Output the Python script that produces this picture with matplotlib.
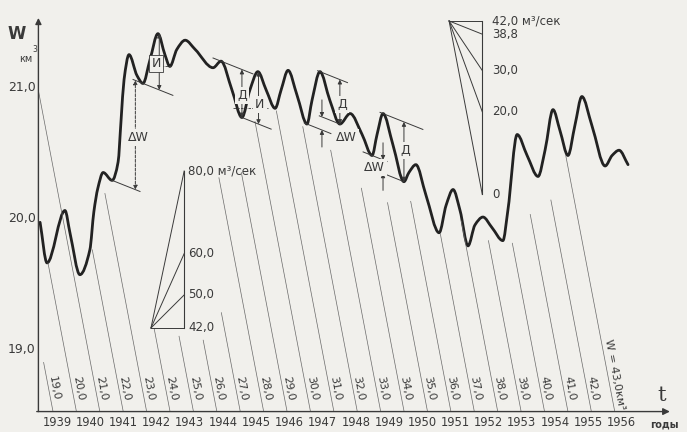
import numpy as np
import matplotlib.pyplot as plt
from matplotlib.path import Path
from matplotlib.patches import PathPatch

# integral storage curve of the reservoir, W in km3 against time in years
curve_t = [1938.49, 1938.70, 1939.24, 1939.39, 1939.69, 1939.99, 1940.11, 1940.23,
           1940.39, 1940.66, 1940.84, 1940.93, 1941.02, 1941.17, 1941.41, 1941.59,
           1941.80, 1942.04, 1942.25, 1942.40, 1942.61, 1942.86, 1943.16, 1943.70,
           1943.94, 1944.27, 1944.57, 1944.81, 1945.05, 1945.30, 1945.57, 1945.75,
           1945.96, 1946.23, 1946.53, 1946.68, 1946.92, 1947.22, 1947.52, 1947.83,
           1948.19, 1948.49, 1948.64, 1948.82, 1949.12, 1949.45, 1949.60, 1949.81,
           1950.11, 1950.51, 1950.72, 1950.93, 1951.14, 1951.38, 1951.59, 1951.83,
           1952.10, 1952.43, 1952.58, 1952.86, 1953.16, 1953.49, 1953.70, 1953.94,
           1954.15, 1954.39, 1954.60, 1954.81, 1955.11, 1955.51, 1955.72, 1955.93,
           1956.20]
storage = [19.99, 19.68, 20.08, 19.91, 19.59, 19.78, 20.07, 20.25,
           20.37, 20.31, 20.45, 20.77, 21.08, 21.27, 21.11, 21.05,
           21.23, 21.43, 21.27, 21.18, 21.31, 21.38, 21.31, 21.17,
           21.22, 21.00, 20.79, 21.00, 21.14, 21.00, 20.86, 21.00,
           21.15, 20.96, 20.74, 20.92, 21.14, 20.92, 20.74, 20.82,
           20.66, 20.50, 20.66, 20.82, 20.58, 20.30, 20.37, 20.43,
           20.20, 19.91, 20.12, 20.24, 20.08, 19.81, 19.97, 20.03,
           19.95, 19.85, 20.08, 20.66, 20.50, 20.34, 20.54, 20.85,
           20.69, 20.50, 20.73, 20.95, 20.73, 20.42, 20.50, 20.54,
           20.43]

years = list(range(1939, 1957))
y_ticks = [19.0, 20.0, 21.0]

# slanted lines of equal volume and the level where each one starts
iso_values = list(range(19, 44))
iso_top = [18.92, 19.68, 20.98, 19.78, 20.21, 19.18, 19.12, 19.09, 19.30, 20.33,
           20.37, 20.76, 20.84, 20.72, 20.54, 20.25, 20.14, 20.15, 19.90, 20.00,
           19.85, 19.83, 20.05, 20.16, 20.50]

# discharge scales, m3/s
upper_fan_q = [42.0, 38.8, 30.0, 20.0, 0.0]
lower_fan_q = [80.0, 60.0, 50.0, 42.0]

Q_BASE = 42.0
KM3_PER_Q = 0.031536          # 1 m3/s kept for one year, in km3
K = Q_BASE * KM3_PER_Q        # slope of the equal-volume lines, km3 per year
S38 = (38.8 - Q_BASE) * KM3_PER_Q

W_BASE = 18.545
AXIS_T = 1938.44
ISO_T0 = 1938.88
ISO_STEP = 0.705

BG = '#f1f0ec'
INK = '#3a3a3a'
THIN = '#6a6a6a'

fig = plt.figure(figsize=(6.87, 4.32), dpi=100, facecolor=BG)
ax = fig.add_axes([0, 0, 1, 1])
ax.set_facecolor(BG)
ax.set_xlim(1937.283, 1957.976)
ax.set_ylim(18.389, 21.687)
ax.axis('off')

# axes with arrows
ax.annotate('', xy=(AXIS_T, 21.55), xytext=(AXIS_T, W_BASE),
            arrowprops=dict(arrowstyle='-|>', color=INK, lw=1.0, mutation_scale=9,
                            shrinkA=0, shrinkB=0))
ax.annotate('', xy=(1957.46, W_BASE), xytext=(AXIS_T - 0.05, W_BASE),
            arrowprops=dict(arrowstyle='-|>', color=INK, lw=1.0, mutation_scale=10,
                            shrinkA=0, shrinkB=0))

ax.text(1937.80, 21.43, 'W', fontsize=12, fontweight='bold', color=INK,
        ha='center', va='center')
ax.text(1938.07, 21.24, 'км', fontsize=7, color=INK, ha='center', va='center')
ax.text(1938.33, 21.31, '3', fontsize=5.5, color=INK, ha='center', va='center')
for v in y_ticks:
    ax.text(AXIS_T - 0.08, v + 0.02, f'{v:.1f}'.replace('.', ','), fontsize=9,
            color=INK, ha='right', va='center')

for y in years:
    ax.text(y, 18.46, str(y), fontsize=8.3, color=INK, ha='center', va='center')
ax.text(1957.22, 18.67, 't', fontsize=15, family='DejaVu Serif', color=INK,
        ha='center', va='center')
ax.text(1956.86, 18.45, 'годы', fontsize=7, fontweight='bold', color=INK,
        ha='left', va='center')

# equal-volume lines
ppx = fig.get_figwidth() * fig.dpi / np.diff(ax.get_xlim())[0]
ppy = fig.get_figheight() * fig.dpi / np.diff(ax.get_ylim())[0]
angle = np.degrees(np.arctan2(-K * ppy, ppx))
for v, top in zip(iso_values, iso_top):
    tb = ISO_T0 + (v - 19) * ISO_STEP
    t_top = max(tb - (top - W_BASE) / K, AXIS_T)
    ax.plot([t_top, tb], [W_BASE + K * (tb - t_top), W_BASE], color=THIN, lw=0.5)
    if v < iso_values[-1]:
        w_lab = 18.725
        ax.text(tb - (w_lab - W_BASE) / K + 0.18, w_lab, f'{v:.1f}'.replace('.', ','),
                fontsize=8, color=INK, rotation=angle, rotation_mode='anchor',
                ha='center', va='center')
    else:
        w_lab = 18.83
        ax.text(tb - (w_lab - W_BASE) / K + 0.2, w_lab, f'W = {v:.1f}км³'.replace('.', ','),
                fontsize=8, color=INK, rotation=angle, rotation_mode='anchor',
                ha='center', va='center')


def smooth_path(x, y):
    x = np.asarray(x)
    y = np.asarray(y)
    h = np.diff(x)
    d = np.diff(y) / h
    m = np.zeros_like(y)
    m[0], m[-1] = d[0], d[-1]
    for k in range(1, len(x) - 1):
        if d[k - 1] * d[k] > 0:
            w1 = 2 * h[k] + h[k - 1]
            w2 = h[k] + 2 * h[k - 1]
            m[k] = (w1 + w2) / (w1 / d[k - 1] + w2 / d[k])
    verts = [(x[0], y[0])]
    codes = [Path.MOVETO]
    for k in range(len(x) - 1):
        verts += [(x[k] + h[k] / 3, y[k] + m[k] * h[k] / 3),
                  (x[k + 1] - h[k] / 3, y[k + 1] - m[k + 1] * h[k] / 3),
                  (x[k + 1], y[k + 1])]
        codes += [Path.CURVE4] * 3
    return Path(verts, codes)


ax.add_patch(PathPatch(smooth_path(curve_t, storage), fill=False, lw=2.0,
                       edgecolor='#222222', capstyle='round', joinstyle='round'))


# discharge fans
def fan(apex_t, apex_w, values, labels, lab_dx):
    ends = [apex_w + (q - Q_BASE) * KM3_PER_Q for q in values]
    for w in ends:
        ax.plot([apex_t, apex_t + 1], [apex_w, w], color=INK, lw=0.7)
    ax.plot([apex_t + 1, apex_t + 1], [min(ends), max(ends)], color=INK, lw=0.8)
    for w, lab in zip(ends, labels):
        ax.text(apex_t + 1 + lab_dx, w, lab, fontsize=8.5, color=INK,
                ha='left', va='center')


fan(1950.81, 21.527, upper_fan_q,
    ['42,0 м³/сек', '38,8', '30,0', '20,0', '0'], 0.3)
fan(1941.83, 19.183, lower_fan_q,
    ['80,0 м³/сек', '60,0', '50,0', '42,0'], 0.12)


# construction marks on the curve
def on_tangent(i, t):
    return storage[i] + S38 * (t - curve_t[i])


def tangent(i, t1, t2):
    ax.plot([t1, t2], [on_tangent(i, t1), on_tangent(i, t2)], color=INK, lw=0.7)


def span(t, w1, w2, ls='-'):
    ax.annotate('', xy=(t, w2), xytext=(t, w1),
                arrowprops=dict(arrowstyle='<|-|>', color=INK, lw=0.7, ls=ls,
                                mutation_scale=6, shrinkA=0, shrinkB=0))


def pinch(t, w_hi, w_lo):
    for w_from, w_to in [(w_hi + 0.13, w_hi), (w_lo - 0.13, w_lo)]:
        ax.annotate('', xy=(t, w_to), xytext=(t, w_from),
                    arrowprops=dict(arrowstyle='-|>', color=INK, lw=0.7,
                                    mutation_scale=6, shrinkA=0, shrinkB=0))


def label(t, w, s, box=False):
    bbox = dict(boxstyle='square,pad=0.15', fc=BG, ec=INK if box else 'none', lw=0.6)
    ax.text(t, w, s, fontsize=9, color=INK, ha='center', va='center', bbox=bbox)


def level(i, t1, t2):
    ax.plot([t1, t2], [storage[i], storage[i]], color=INK, lw=0.6, ls=(0, (3, 1.5)))


# 1940-1942
tangent(9, 1940.62, 1941.50)
tangent(15, 1941.29, 1942.49)
span(1941.36, on_tangent(9, 1941.36), on_tangent(15, 1941.36), ls=(0, (3, 1.5)))
label(1941.45, 20.64, 'ΔW')
span(1942.08, storage[17], on_tangent(15, 1942.08))
level(19, 1941.80, 1942.45)
label(1941.98, 21.20, 'И', box=True)

# 1944-1945
tangent(24, 1943.70, 1944.90)
span(1944.57, on_tangent(24, 1944.57), storage[26])
label(1944.57, 20.96, 'Д')
tangent(26, 1944.50, 1945.45)
span(1945.07, storage[28], on_tangent(26, 1945.07))
level(30, 1944.30, 1945.35)
label(1945.10, 20.89, 'И')

# 1946-1947
tangent(36, 1946.85, 1947.75)
span(1947.52, on_tangent(36, 1947.52), storage[38])
label(1947.58, 20.89, 'Д')
tangent(34, 1946.45, 1947.25)
tangent(38, 1946.90, 1947.55)
pinch(1946.98, on_tangent(38, 1946.98), on_tangent(34, 1946.98))
label(1947.72, 20.64, 'ΔW')

# 1948-1949
tangent(43, 1948.73, 1950.02)
span(1949.45, on_tangent(43, 1949.45), storage[45])
label(1949.48, 20.54, 'Д')
tangent(41, 1948.22, 1948.94)
tangent(45, 1948.28, 1949.45)
pinch(1948.82, on_tangent(41, 1948.82), on_tangent(45, 1948.82))
label(1948.56, 20.41, 'ΔW')

plt.savefig('out.png', dpi=100, facecolor=BG)
